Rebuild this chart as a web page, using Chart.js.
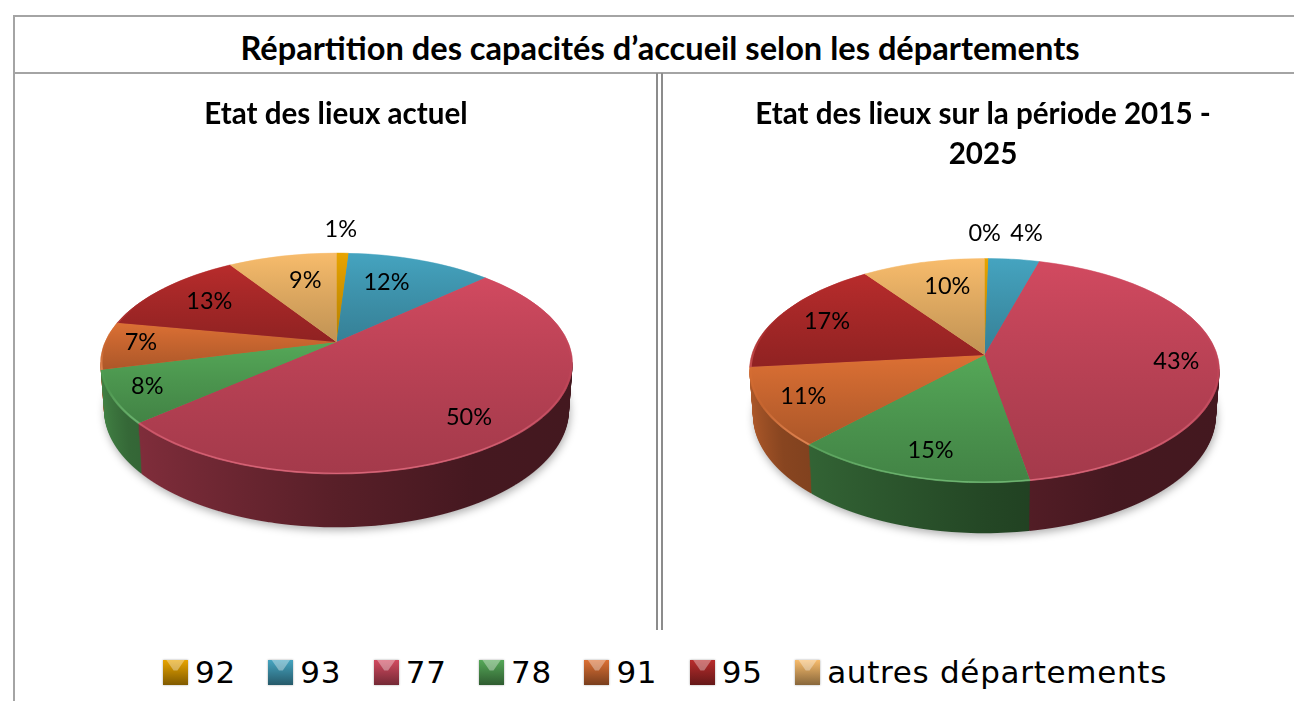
<!DOCTYPE html>
<html lang="fr">
<head>
<meta charset="utf-8">
<title>Répartition des capacités d'accueil</title>
<script src="https://cdn.jsdelivr.net/npm/chart.js@4/dist/chart.umd.min.js"></script>
<style>
    html, body { margin: 0; background: #fff; overflow: hidden; width: 1294px; height: 701px; }
    .line { position: absolute; background: #a4a4a4; }
    #main-title {
        position: absolute; left: 14px; width: 1292px; top: 25px;
        text-align: center; color: #000;
        font: bold 32.6px Lato, sans-serif; line-height: 46px; white-space: nowrap;
    }
    canvas { position: absolute; top: 75px; }
    #legend {
        position: absolute; left: 163px; top: 657px; display: flex; align-items: center;
        font: 31px "DejaVu Sans", sans-serif; letter-spacing: 0.7px; color: #000; white-space: nowrap; line-height: 30px;
    }
    .legend-item { display: flex; align-items: center; margin-right: 32.5px; }
    .legend-box { position: relative; width: 25px; height: 25px; margin-right: 7px; box-shadow: 0 0 2px rgba(0,0,0,0.35); }
    .legend-box i {
        position: absolute; left: 3px; right: 3px; top: 0; height: 11px;
        background: rgba(255,255,255,0.35); clip-path: polygon(0 0, 100% 0, 60% 100%, 40% 100%);
    }
</style>
</head>
<body>
<div class="line" style="left:13px;top:15px;width:1281px;height:2px"></div>
<div class="line" style="left:13px;top:15px;width:2px;height:686px"></div>
<div class="line" style="left:13px;top:72px;width:1281px;height:2px"></div>
<div class="line" style="left:656px;top:73px;width:2px;height:557px;background:#8c8c8c"></div>
<div class="line" style="left:661px;top:73px;width:2px;height:557px;background:#8c8c8c"></div>
<div id="main-title">Répartition des capacités d’accueil selon les départements</div>
<canvas id="chart-left" width="640" height="555" style="left:16px"></canvas>
<canvas id="chart-right" width="638" height="555" style="left:664px"></canvas>
<div id="legend"></div>

<script>
// ===== Data =====
const departments = ["92", "93", "77", "78", "91", "95", "autres départements"];
const currentShares = [1, 12, 50.4, 7.6, 7, 13, 9];
const forecastShares = [0.3, 4, 43, 14.6, 11.4, 17, 9.7];
const currentTitle = "Etat des lieux actuel";
const forecastTitle = ["Etat des lieux sur la période 2015 -", "2025"];
const sliceColors = ["#e8a400", "#45a4c0", "#d24a60", "#55a858", "#dc7034", "#b82c2c", "#f8bc6c"];

// where each % label sits: fraction of the radius, and degrees away from the slice middle
const currentLabelRadius = [1.34, 0.67, 0.80, 0.85, 0.845, 0.725, 0.675];
const currentLabelTurn = [-0.8, -4, 3.5, 0.8, 1.8, 0.8, 3.2];
const forecastLabelRadius = [1.30, 1.325, 0.82, 0.80, 0.823, 0.774, 0.70];
const forecastLabelTurn = [-0.5, 1, 1, -1.6, 0.6, -0.4, 3];

// perspective of the tilted disc, in canvas px: apex (cx,cy), a/d = tilt, r0 = radius
// depth: the lower disc is moved down by "drop", slightly narrower and a bit flatter
const currentView = { cx: 320.5, cy: 267, a: 106.3, d: 0.1946, r0: 231.5, drop: 45, aGrow: 1.063, rGrow: 0.985 };
const forecastView = { cx: 320.5, cy: 280, a: 110, d: 0.139, r0: 232.7, drop: 44, aGrow: 1.05, rGrow: 0.985 };

// ===== Colour helpers =====
function shade(hex, f) {
    const n = parseInt(hex.slice(1), 16);
    const ch = [n >> 16, (n >> 8) & 255, n & 255].map(c => Math.round(f <= 1 ? c * f : c + (255 - c) * (f - 1)));
    return `rgb(${ch[0]},${ch[1]},${ch[2]})`;
}

// ===== Slice extent, v = -1 back of disc, +1 front =====
function sliceRange(el) {
    const s = el.startAngle, e = el.endAngle;
    let vMin = Math.min(0, Math.sin(s), Math.sin(e));
    let vMax = Math.max(0, Math.sin(s), Math.sin(e));
    for (let k = -1; k < 3; k++) {
        const top = -Math.PI / 2 + k * 2 * Math.PI;
        const bottom = Math.PI / 2 + k * 2 * Math.PI;
        if (s <= top && top <= e) vMin = -1;
        if (s <= bottom && bottom <= e) vMax = 1;
    }
    return { vMin, vMax };
}

// Paint arcs row by row: each pixel row gets its own scale, which gives the perspective ellipse
function paintRows(ctx, pieces, R, view, width, fromRow, toRow) {
    for (let row = fromRow; row < toRow; row++) {
        const yRel = row + 0.5 - view.cy;
        const v = yRel / (view.a + view.d * yRel);
        if (v < -1.03 || v > 1.03) continue;
        const w = 1 - view.d * v;
        const sx = view.r0 / (R * w);
        const sy = view.a / (w * w * R);
        ctx.save();
        ctx.beginPath();
        ctx.rect(0, row, width, 1);
        ctx.clip();
        pieces.forEach(p => {
            if (v < p.vMin - 0.03 || v > p.vMax + 0.03) return;
            ctx.save();
            ctx.transform(sx, 0, 0, sy, view.cx - sx * p.x, row + 0.5 - sy * (p.y + v * R));
            p.draw(ctx);
            ctx.restore();
        });
        ctx.restore();
    }
}

function makePieces(arcs, fillFor, radius, border) {
    return arcs.map((el, i) => {
        const piece = Object.create(el);
        const range = sliceRange(el);
        const fill = fillFor(el, i, range);
        piece.vMin = range.vMin;
        piece.vMax = range.vMax;
        piece.outerRadius = radius;
        piece.options = Object.assign({}, el.options, {
            backgroundColor: fill,
            borderColor: fill,
            borderWidth: border
        });
        return piece;
    });
}

// ===== Plugin: tilted 3D pie =====
const tiltedPie = {
    id: "tiltedPie",
    beforeDatasetsDraw(chart, args, opts) {
        const ctx = chart.ctx;
        const view = opts.view;
        const arcs = chart.getDatasetMeta(0).data;
        const R = arcs[0].outerRadius;
        const width = chart.width;
        const X = arcs[0].x;

        const wallFill = (el, i) => {
            const g = ctx.createLinearGradient(X - R, 0, X + R, 0);
            [[0, 0.8], [0.1, 0.62], [0.5, 0.42], [0.75, 0.33], [1, 0.32]].forEach(s => g.addColorStop(s[0], shade(sliceColors[i], s[1])));
            return g;
        };
        const faceFill = (el, i, r) => {
            const g = ctx.createLinearGradient(0, el.y + r.vMin * R, 0, el.y + r.vMax * R);
            g.addColorStop(0, sliceColors[i]);
            g.addColorStop(1, shade(sliceColors[i], 0.78));
            return g;
        };
        const rimFill = (el, i, r) => {
            const g = ctx.createLinearGradient(0, el.y + r.vMin * R, 0, el.y + r.vMax * R);
            g.addColorStop(0, sliceColors[i]);
            g.addColorStop(0.6, shade(sliceColors[i], 0.9));
            g.addColorStop(1, shade(sliceColors[i], 1.15));
            return g;
        };

        const widest = v => v.cy + v.a * v.d / (1 - v.d * v.d);
        const lowest = v => v.cy + v.a / (1 - v.d);

        // soft shadow below the body
        const bottomView = Object.assign({}, view, { cy: view.cy + view.drop, a: view.a * view.aGrow, r0: view.r0 * view.rGrow });
        ctx.save();
        ctx.filter = "blur(4px)";
        const rx = bottomView.r0 / Math.sqrt(1 - view.d * view.d);
        const ry = (lowest(bottomView) - widest(bottomView));
        ctx.transform(rx / R, 0, 0, ry / R, view.cx + 1 - rx / R * X, widest(bottomView) + 3 - ry / R * arcs[0].y);
        const whole = Object.create(arcs[0]);
        whole.startAngle = -Math.PI / 2;
        whole.endAngle = 1.5 * Math.PI;
        whole.circumference = 2 * Math.PI;
        whole.options = Object.assign({}, arcs[0].options, { backgroundColor: "rgba(0,0,0,0.32)", borderWidth: 0 });
        whole.draw(ctx);
        ctx.restore();

        // body: discs from the bottom up to the top face
        const wall = makePieces(arcs, wallFill, R, 0);
        const steps = view.drop + 6;
        for (let k = steps; k >= 1; k--) {
            const t = k / steps;
            const v = {
                cx: view.cx, d: view.d,
                cy: view.cy + view.drop * t,
                a: view.a * (1 + (view.aGrow - 1) * t),
                r0: view.r0 * (1 + (view.rGrow - 1) * t)
            };
            paintRows(ctx, wall, R, v, width, Math.floor(widest(v)) - 2, Math.ceil(lowest(v)) + 2);
        }

        // top face, with a lighter bevel on the front rim
        const top = Math.floor(view.cy - view.a / (1 + view.d)) - 2;
        const bottom = Math.ceil(lowest(view)) + 2;
        paintRows(ctx, makePieces(arcs, rimFill, R, 0.8), R, view, width, top, bottom);
        paintRows(ctx, makePieces(arcs, faceFill, R - 2, 0), R, view, width, top, bottom);
        return false;
    },
    afterDraw(chart, args, opts) {
        const ctx = chart.ctx;
        const view = opts.view;
        const arcs = chart.getDatasetMeta(0).data;
        const values = chart.data.datasets[0].data;
        const total = values.reduce((a, b) => a + b, 0);
        ctx.save();
        ctx.font = "23.5px Lato, sans-serif";
        ctx.fillStyle = "#000";
        ctx.textAlign = "center";
        ctx.textBaseline = "middle";
        arcs.forEach((el, i) => {
            const mid = (el.startAngle + el.endAngle) / 2 + opts.labelTurn[i] * Math.PI / 180;
            const r = opts.labelRadius[i];
            const u = Math.cos(mid) * r, v = Math.sin(mid) * r;
            const w = 1 - view.d * v;
            ctx.fillText(Math.round(values[i] / total * 100) + "%", view.cx + view.r0 * u / w, view.cy + view.a * v / w);
        });
        ctx.restore();
    }
};

// ===== Charts =====
function makePie(id, title, shares, view, labelRadius, labelTurn) {
    return new Chart(document.getElementById(id), {
        type: "pie",
        data: { labels: departments, datasets: [{ data: shares, backgroundColor: sliceColors, borderWidth: 0 }] },
        options: {
            responsive: false,
            animation: false,
            events: [],
            plugins: {
                legend: { display: false },
                tooltip: { enabled: false },
                title: {
                    display: true,
                    text: title,
                    color: "#000",
                    font: { family: "Lato, sans-serif", size: 29.6, weight: "bold", lineHeight: 1.33 },
                    padding: { top: 20, bottom: 10 }
                },
                tiltedPie: { view, labelRadius, labelTurn }
            }
        },
        plugins: [tiltedPie]
    });
}
makePie("chart-left", currentTitle, currentShares, currentView, currentLabelRadius, currentLabelTurn);
makePie("chart-right", forecastTitle, forecastShares, forecastView, forecastLabelRadius, forecastLabelTurn);

// ===== Legend =====
const legend = document.getElementById("legend");
departments.forEach((name, i) => {
    const item = document.createElement("div");
    item.className = "legend-item";
    const box = document.createElement("div");
    box.className = "legend-box";
    box.style.background = `linear-gradient(${sliceColors[i]}, ${shade(sliceColors[i], 0.55)})`;
    box.appendChild(document.createElement("i"));
    const text = document.createElement("span");
    text.textContent = name;
    item.appendChild(box);
    item.appendChild(text);
    legend.appendChild(item);
});
</script>
</body>
</html>
